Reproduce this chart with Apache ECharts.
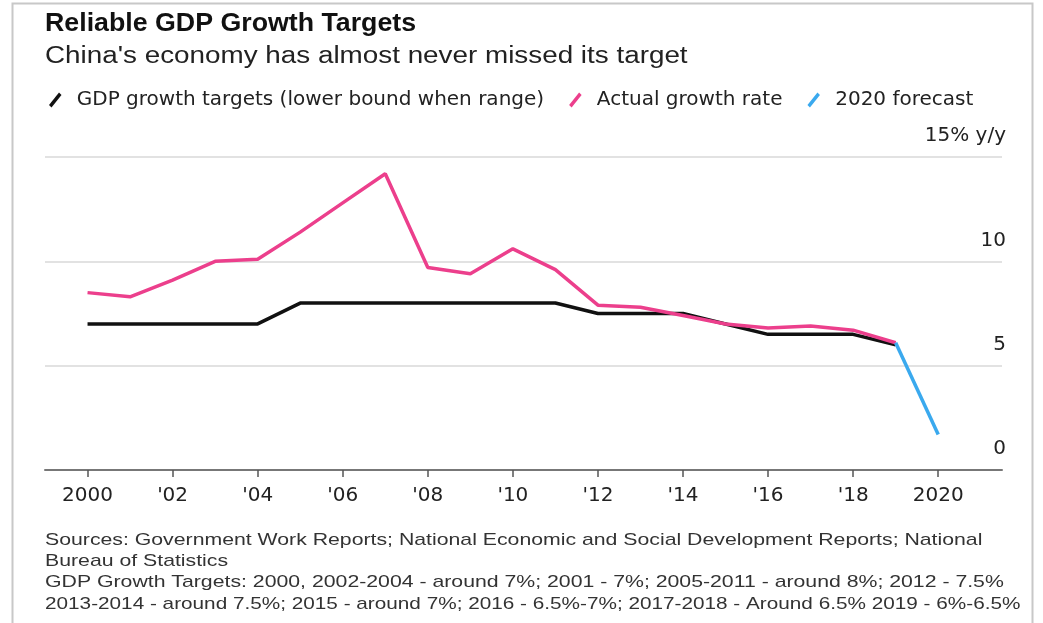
<!DOCTYPE html>
<html>
<head>
<meta charset="utf-8">
<title>Reliable GDP Growth Targets</title>
<script src="https://cdn.jsdelivr.net/npm/echarts@6/dist/echarts.min.js"></script>
<style>
  html, body { margin: 0; padding: 0; background: #fff; }
  #chart { width: 1043px; height: 623px; }
</style>
</head>
<body>
<div id="chart"></div>
<script>
// data
var years = [2000, 2001, 2002, 2003, 2004, 2005, 2006, 2007, 2008, 2009,
             2010, 2011, 2012, 2013, 2014, 2015, 2016, 2017, 2018, 2019];
var targets = [7, 7, 7, 7, 7, 8, 8, 8, 8, 8, 8, 8, 7.5, 7.5, 7.5, 7, 6.5, 6.5, 6.5, 6];
var actual = [8.5, 8.3, 9.1, 10.0, 10.1, 11.4, 12.8, 14.2, 9.7, 9.4,
              10.6, 9.6, 7.9, 7.8, 7.4, 7.0, 6.8, 6.9, 6.7, 6.1];
var forecastYears = [2019, 2020];
var forecast = [6.1, 1.7];
var xTicks = [2000, 2002, 2004, 2006, 2008, 2010, 2012, 2014, 2016, 2018, 2020];
var yTicks = [0, 5, 10, 15];

var notes = [
  'Sources: Government Work Reports; National Economic and Social Development Reports; National',
  'Bureau of Statistics',
  'GDP Growth Targets: 2000, 2002-2004 - around 7%; 2001 - 7%; 2005-2011 - around 8%; 2012 - 7.5%',
  '2013-2014 - around 7.5%; 2015 - around 7%; 2016 - 6.5%-7%; 2017-2018 - Around 6.5% 2019 - 6%-6.5%'
];
var noteStretch = [1.25, 1.25, 1.25, 1.22];

function pairs(xs, ys) {
  return xs.map(function (x, i) { return [x, ys[i]]; });
}

var FONT = '"Liberation Sans", Arial, Helvetica, sans-serif';
var WIDE = '"DejaVu Sans", "Liberation Sans", sans-serif';
var slash = 'path://M0,10 L8,0 L10,2 L2,12 Z';

// text blocks drawn as graphic text, stretched a bit sideways like the source
function textLine(t, x, y, font, color, sx) {
  return {
    type: 'text',
    x: x,
    y: y,
    scaleX: sx,
    silent: true,
    style: { text: t, font: font, fill: color, textVerticalAlign: 'middle' }
  };
}

var header = [
  textLine('Reliable GDP Growth Targets', 45, 24, 'bold 25px ' + FONT, '#111', 1.07),
  textLine("China's economy has almost never missed its target", 45, 57, '23px ' + FONT, '#222', 1.21)
];
var noteText = notes.map(function (t, i) {
  return textLine(t, 45, 540 + i * 21.3, '17px ' + FONT, '#333', noteStretch[i]);
});

var chart = echarts.init(document.getElementById('chart'));

var option = {
  animation: false,
  backgroundColor: '#fff',
  textStyle: { fontFamily: WIDE },
  legend: {
    left: 44,
    top: 85,
    itemWidth: 13,
    itemHeight: 15,
    itemGap: 25,
    icon: slash,
    textStyle: { fontSize: 20, color: '#222', fontFamily: WIDE, padding: [0, 0, 0, 10] },
    data: [
      { name: 'GDP growth targets (lower bound when range)', itemStyle: { color: '#111' } },
      { name: 'Actual growth rate', itemStyle: { color: '#ec3f8c' } },
      { name: '2020 forecast', itemStyle: { color: '#3aa9ee' } }
    ]
  },
  grid: { left: 45, right: 41, top: 157, bottom: 153 },
  xAxis: {
    type: 'value',
    min: 1999,
    max: 2021.5,
    splitLine: { show: false },
    axisLine: { lineStyle: { color: '#777', width: 2 } },
    axisTick: { show: true, customValues: xTicks, length: 7, lineStyle: { color: '#555', width: 1.5 } },
    axisLabel: {
      customValues: xTicks,
      fontSize: 20,
      fontFamily: WIDE,
      color: '#222',
      margin: 16,
      formatter: function (v) {
        if (v === 2000 || v === 2020) return String(v);
        return "'" + String(v).slice(2);
      }
    }
  },
  yAxis: {
    type: 'value',
    position: 'right',
    min: 0,
    max: 15,
    interval: 5,
    axisLine: { show: false },
    axisTick: { show: false },
    splitLine: { lineStyle: { color: '#e2e2e2', width: 2 } },
    axisLabel: {
      inside: true,
      margin: -4,
      fontSize: 20,
      fontFamily: WIDE,
      color: '#222',
      verticalAlign: 'bottom',
      padding: [0, 0, 11, 0],
      customValues: yTicks,
      formatter: function (v) { return v === 15 ? '15% y/y' : String(v); }
    }
  },
  series: [
    {
      name: 'GDP growth targets (lower bound when range)',
      type: 'line',
      data: pairs(years, targets),
      symbol: 'none',
      color: '#111',
      lineStyle: { width: 3.5, color: '#111' },
      z: 2
    },
    {
      name: 'Actual growth rate',
      type: 'line',
      data: pairs(years, actual),
      symbol: 'none',
      color: '#ec3f8c',
      lineStyle: { width: 3.5, color: '#ec3f8c' },
      z: 3
    },
    {
      name: '2020 forecast',
      type: 'line',
      data: pairs(forecastYears, forecast),
      symbol: 'none',
      color: '#3aa9ee',
      lineStyle: { width: 3.5, color: '#3aa9ee' },
      z: 4
    }
  ],
  graphic: [
    {
      type: 'rect',
      shape: { x: 12.5, y: 3.5, width: 1020, height: 640 },
      style: { fill: 'none', stroke: '#c8c8c8', lineWidth: 2 },
      silent: true
    }
  ].concat(header, noteText)
};

chart.setOption(option);
</script>
</body>
</html>
